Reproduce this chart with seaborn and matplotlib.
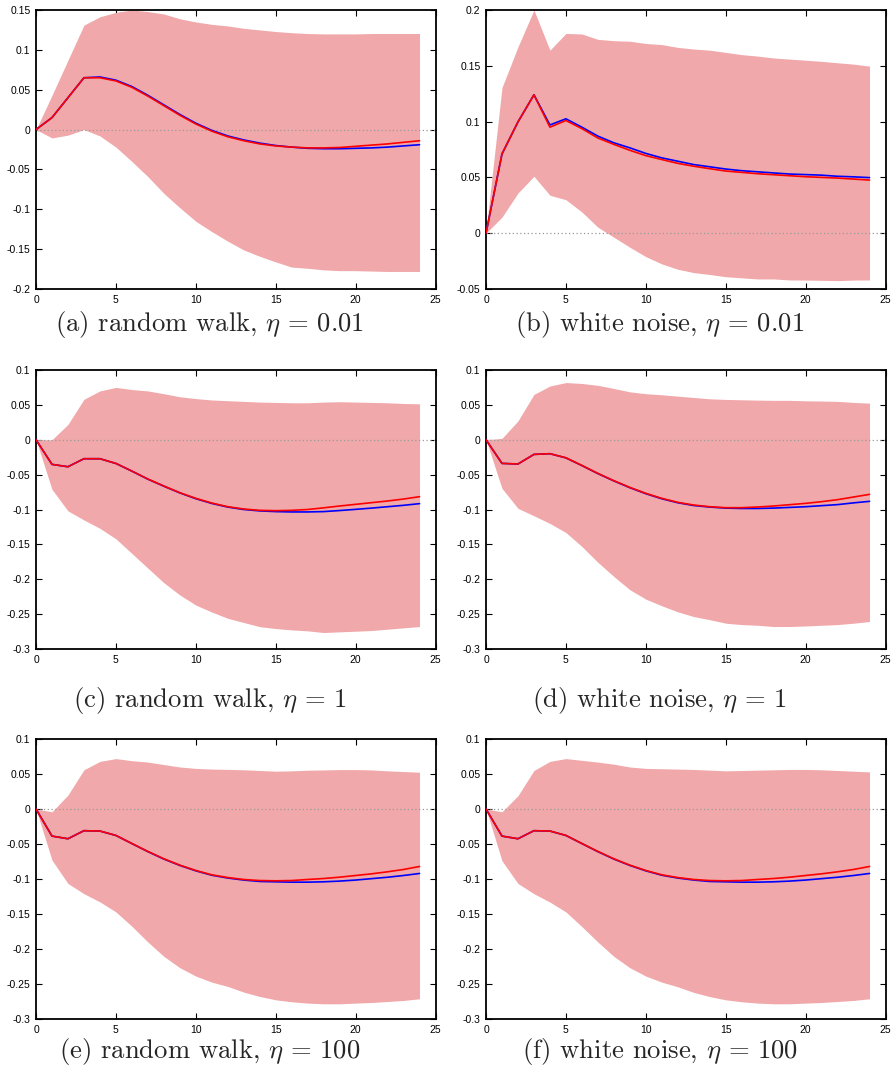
import numpy as np
import pandas as pd
import matplotlib
matplotlib.use("Agg")
import matplotlib.pyplot as plt
import seaborn as sns
from matplotlib.ticker import FuncFormatter

sns.set_style("ticks")
plt.rcParams['font.family'] = ['Liberation Sans', 'DejaVu Sans']
plt.rcParams['mathtext.fontset'] = 'cm'

horizon = list(range(25))

# (a) random walk, eta = 0.01
a_upper = [0.0, 0.043, 0.087, 0.131, 0.1415, 0.147, 0.15, 0.148, 0.145, 0.139, 0.135, 0.132, 0.130, 0.127,
           0.125, 0.123, 0.1215, 0.1205, 0.12, 0.12, 0.12, 0.1205, 0.1205, 0.1205, 0.1205]
a_lower = [0.0, -0.0105, -0.007, 0.0, -0.008, -0.022, -0.04, -0.059, -0.080, -0.098, -0.115, -0.128, -0.14,
           -0.151, -0.159, -0.166, -0.1725, -0.174, -0.176, -0.177, -0.177, -0.1775, -0.178, -0.178, -0.178]
a_red = [0.0, 0.015, 0.04, 0.065, 0.065, 0.061, 0.053, 0.042, 0.030, 0.018, 0.007, -0.002, -0.009, -0.014,
         -0.018, -0.0205, -0.022, -0.023, -0.023, -0.0225, -0.021, -0.0195, -0.018, -0.016, -0.014]
a_blue = [0.0, 0.015, 0.04, 0.065, 0.066, 0.062, 0.054, 0.043, 0.031, 0.019, 0.008, -0.001, -0.008, -0.013,
          -0.017, -0.020, -0.022, -0.0235, -0.024, -0.024, -0.0235, -0.023, -0.022, -0.0205, -0.019]

# (b) white noise, eta = 0.01
b_upper = [0.002, 0.1305, 0.167, 0.2, 0.164, 0.179, 0.1785, 0.1737, 0.1725, 0.172, 0.170, 0.169, 0.1665,
           0.165, 0.164, 0.162, 0.160, 0.1587, 0.157, 0.156, 0.155, 0.154, 0.1527, 0.1515, 0.1497]
b_lower = [0.0, 0.0144, 0.036, 0.051, 0.034, 0.030, 0.019, 0.0054, -0.0036, -0.0126, -0.021, -0.0275,
           -0.0323, -0.0353, -0.037, -0.039, -0.040, -0.041, -0.041, -0.0419, -0.042, -0.0422, -0.0425,
           -0.042, -0.0419]
b_red = [0.0, 0.071, 0.0997, 0.124, 0.095, 0.101, 0.0937, 0.0853, 0.0796, 0.0743, 0.0695, 0.066, 0.0626,
         0.060, 0.0578, 0.0557, 0.0545, 0.0533, 0.0524, 0.0515, 0.0506, 0.050, 0.0494, 0.0485, 0.0476]
b_blue = [0.0, 0.071, 0.0997, 0.124, 0.097, 0.1025, 0.095, 0.087, 0.081, 0.0765, 0.0715, 0.0675, 0.0645,
          0.0615, 0.0595, 0.0575, 0.056, 0.055, 0.054, 0.053, 0.0525, 0.052, 0.051, 0.0505, 0.0498]

# (c) random walk, eta = 1
c_upper = [0.0, 0.0, 0.022, 0.058, 0.070, 0.075, 0.072, 0.070, 0.066, 0.0616, 0.059, 0.057, 0.056, 0.055,
           0.054, 0.0535, 0.053, 0.053, 0.054, 0.0545, 0.054, 0.0535, 0.053, 0.052, 0.0515]
c_lower = [0.0, -0.0711, -0.102, -0.115, -0.127, -0.142, -0.163, -0.184, -0.205, -0.2225, -0.237, -0.247,
           -0.256, -0.262, -0.268, -0.2707, -0.2726, -0.274, -0.2764, -0.2754, -0.2745, -0.2735, -0.2716,
           -0.2697, -0.2678]
c_red = [0.0, -0.0353, -0.0387, -0.0272, -0.0272, -0.0339, -0.0449, -0.0563, -0.0663, -0.0759, -0.084,
         -0.0907, -0.096, -0.0993, -0.1012, -0.1017, -0.1012, -0.1, -0.0976, -0.095, -0.0926, -0.0902,
         -0.0878, -0.085, -0.0816]
c_blue = [0.0, -0.0353, -0.0387, -0.0272, -0.0272, -0.034, -0.045, -0.0565, -0.0666, -0.0762, -0.0845,
          -0.0913, -0.0965, -0.1, -0.102, -0.103, -0.1035, -0.1035, -0.103, -0.1015, -0.0998, -0.098,
          -0.096, -0.094, -0.0916]

# (d) white noise, eta = 1
d_upper = [0.0, 0.002, 0.027, 0.065, 0.077, 0.082, 0.0807, 0.078, 0.0735, 0.0687, 0.066, 0.0645, 0.0625,
           0.0606, 0.0587, 0.0578, 0.0573, 0.0568, 0.0565, 0.0565, 0.0558, 0.0555, 0.055, 0.0535, 0.0525]
d_lower = [0.0, -0.0697, -0.0983, -0.109, -0.12, -0.133, -0.153, -0.1757, -0.196, -0.215, -0.2285, -0.238,
           -0.2467, -0.2535, -0.258, -0.263, -0.265, -0.266, -0.2678, -0.2678, -0.267, -0.266, -0.265,
           -0.263, -0.2606]
d_red = [0.0, -0.0339, -0.0348, -0.021, -0.020, -0.0258, -0.0368, -0.0482, -0.0587, -0.0683, -0.0768,
         -0.084, -0.0897, -0.0936, -0.096, -0.0974, -0.0974, -0.0964, -0.095, -0.0931, -0.0912, -0.0888,
         -0.0859, -0.0821, -0.0783]
d_blue = [0.0, -0.0339, -0.0348, -0.021, -0.020, -0.026, -0.037, -0.0485, -0.059, -0.0687, -0.0773,
          -0.0846, -0.0903, -0.0943, -0.0965, -0.098, -0.0985, -0.0985, -0.098, -0.097, -0.096, -0.0945,
          -0.093, -0.0905, -0.0883]

# (e) random walk, eta = 100
e_upper = [0.0, -0.004, 0.020, 0.056, 0.068, 0.072, 0.069, 0.067, 0.0635, 0.060, 0.058, 0.057, 0.0566,
           0.056, 0.055, 0.054, 0.0545, 0.0554, 0.0558, 0.0563, 0.0563, 0.0558, 0.0545, 0.0535, 0.0525]
e_lower = [0.0, -0.073, -0.1064, -0.121, -0.1327, -0.147, -0.1675, -0.19, -0.2105, -0.2267, -0.2387,
           -0.2473, -0.2535, -0.2616, -0.2678, -0.2726, -0.2754, -0.2773, -0.2783, -0.2783, -0.2773,
           -0.2764, -0.275, -0.2735, -0.2711]
e_red = [0.0, -0.0387, -0.0425, -0.031, -0.0315, -0.0377, -0.0492, -0.0606, -0.0711, -0.0802, -0.0878,
         -0.094, -0.0979, -0.1007, -0.1022, -0.1026, -0.1022, -0.1007, -0.0993, -0.0974, -0.095, -0.0926,
         -0.0897, -0.0864, -0.0821]
e_blue = [0.0, -0.0387, -0.0425, -0.031, -0.0315, -0.0378, -0.0494, -0.0609, -0.0715, -0.0806, -0.0883,
          -0.0946, -0.0986, -0.1015, -0.1035, -0.104, -0.1045, -0.1045, -0.104, -0.103, -0.1015, -0.0995,
          -0.0975, -0.095, -0.0921]

# (f) white noise, eta = 100
f_upper = [0.0, -0.004, 0.019, 0.055, 0.068, 0.072, 0.0695, 0.067, 0.064, 0.060, 0.058, 0.0575, 0.057,
           0.0565, 0.0555, 0.0545, 0.055, 0.0555, 0.056, 0.0565, 0.0565, 0.056, 0.055, 0.054, 0.053]
f_lower = [0.0, -0.074, -0.1064, -0.121, -0.133, -0.147, -0.168, -0.19, -0.2105, -0.2267, -0.2387,
           -0.2473, -0.254, -0.262, -0.268, -0.2726, -0.2754, -0.2773, -0.2783, -0.2783, -0.2773,
           -0.2764, -0.275, -0.2735, -0.2711]
f_red = [0.0, -0.0387, -0.0425, -0.031, -0.0315, -0.0377, -0.0492, -0.0606, -0.0711, -0.0802, -0.0878,
         -0.094, -0.0979, -0.1007, -0.1022, -0.1026, -0.1022, -0.1007, -0.0993, -0.0974, -0.095, -0.0926,
         -0.0897, -0.0864, -0.0821]
f_blue = [0.0, -0.0387, -0.0425, -0.031, -0.0315, -0.0378, -0.0494, -0.0609, -0.0715, -0.0806, -0.0883,
          -0.0946, -0.0986, -0.1015, -0.1035, -0.104, -0.1045, -0.1045, -0.104, -0.103, -0.1015, -0.0995,
          -0.0975, -0.095, -0.0921]

captions = [r"(a) random walk, $\eta\, =\, 0.01$",
            r"(b) white noise, $\eta\, =\, 0.01$",
            r"(c) random walk, $\eta\, =\, 1$",
            r"(d) white noise, $\eta\, =\, 1$",
            r"(e) random walk, $\eta\, =\, 100$",
            r"(f) white noise, $\eta\, =\, 100$"]

panels = [(a_upper, a_lower, a_red, a_blue, (-0.2, 0.15), 0.05),
          (b_upper, b_lower, b_red, b_blue, (-0.05, 0.2), 0.05),
          (c_upper, c_lower, c_red, c_blue, (-0.3, 0.1), 0.05),
          (d_upper, d_lower, d_red, d_blue, (-0.3, 0.1), 0.05),
          (e_upper, e_lower, e_red, e_blue, (-0.3, 0.1), 0.05),
          (f_upper, f_lower, f_red, f_blue, (-0.3, 0.1), 0.05)]

W, H = 894, 1082
fig = plt.figure(figsize=(W / 100, H / 100), dpi=100)

lefts = [36, 486]
tops = [10, 370, 739]
bottoms = [289, 649, 1019]
cap_base = [331, 707, 1058]
cap_x = [210, 660]

fill_col = "#f0a8aa"


def fmt(v, p):
    v = round(v, 3)
    if abs(v) < 1e-9:
        return "0"
    return "%g" % v


for i, (up, lo, red, blue, ylim, step) in enumerate(panels):
    r, c = divmod(i, 2)
    left = lefts[c]
    ax = fig.add_axes([left / W, 1 - bottoms[r] / H, 399.5 / W, (bottoms[r] - tops[r]) / H])
    df = pd.DataFrame({"h": horizon, "upper": up, "lower": lo, "red": red, "blue": blue})
    ax.fill_between(df["h"], df["lower"], df["upper"], color=fill_col, lw=0, zorder=1)
    ax.axhline(0, color="#9a9a9a", ls=(0, (1, 2)), lw=0.9, zorder=2)
    sns.lineplot(data=df, x="h", y="blue", color="blue", lw=1.2, ax=ax, zorder=3)
    sns.lineplot(data=df, x="h", y="red", color="red", lw=1.2, ax=ax, zorder=4)
    ax.set_xlim(0, 25)
    ax.set_ylim(*ylim)
    ax.set_xticks(range(0, 26, 5))
    ax.set_yticks(np.round(np.arange(ylim[0], ylim[1] + 1e-9, step), 3))
    ax.yaxis.set_major_formatter(FuncFormatter(fmt))
    ax.set_xlabel("")
    ax.set_ylabel("")
    ax.tick_params(direction="in", length=4, width=0.8, top=True, right=True,
                   labelsize=7.5, pad=4, colors="black")
    for s in ax.spines.values():
        s.set_linewidth(1.3)
        s.set_color("black")
    fig.text(cap_x[c] / W, 1 - cap_base[r] / H, captions[i], ha="center", va="baseline",
             fontsize=19.2, family="cmr10")

fig.savefig("out.png", dpi=100)
